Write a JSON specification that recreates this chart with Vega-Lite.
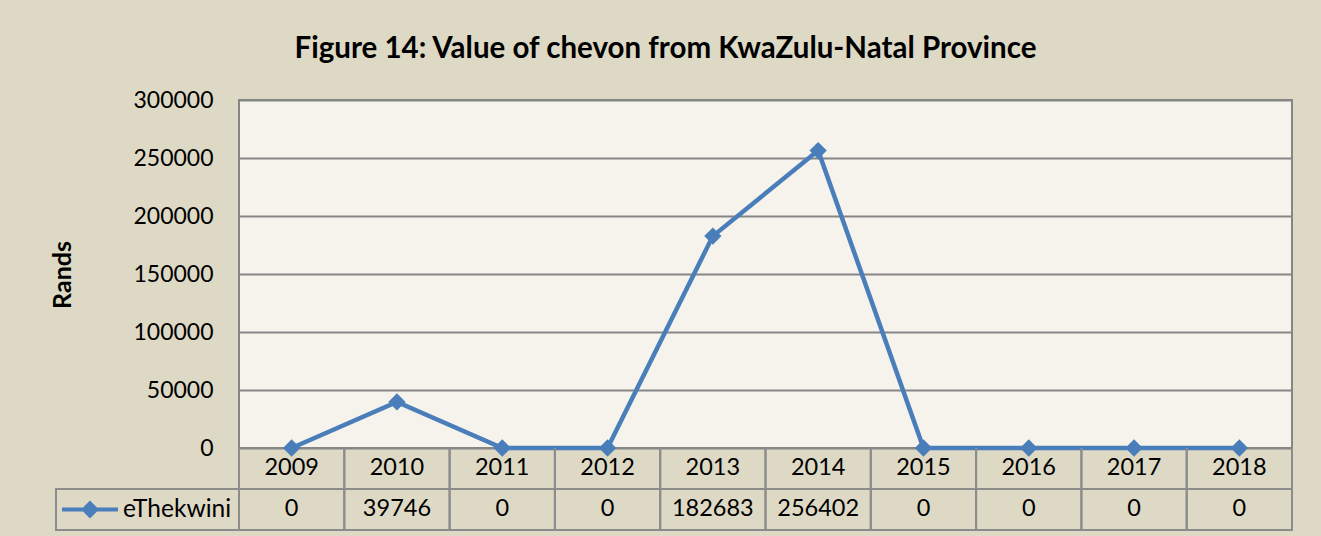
{
  "$schema": "https://vega.github.io/schema/vega-lite/v6.json",
  "width": 1053,
  "height": 348,
  "autosize": {"type": "none"},
  "padding": {"left": 239, "top": 100, "right": 29, "bottom": 88},
  "background": "#ddd9c4",
  "config": {
    "view": {"fill": "#f5f3eb", "stroke": "#868686", "strokeWidth": 2},
    "font": "Lato"
  },
  "title": {
    "text": "Figure 14: Value of chevon from KwaZulu-Natal Province",
    "font": "Lato",
    "fontSize": 29.5,
    "fontWeight": "bold",
    "color": "black",
    "anchor": "middle",
    "frame": "group",
    "baseline": "alphabetic",
    "offset": 2,
    "dx": -100
  },
  "data": {
    "values": [
      {"year": 2009, "value": 0, "series": "eThekwini"},
      {"year": 2010, "value": 39746, "series": "eThekwini"},
      {"year": 2011, "value": 0, "series": "eThekwini"},
      {"year": 2012, "value": 0, "series": "eThekwini"},
      {"year": 2013, "value": 182683, "series": "eThekwini"},
      {"year": 2014, "value": 256402, "series": "eThekwini"},
      {"year": 2015, "value": 0, "series": "eThekwini"},
      {"year": 2016, "value": 0, "series": "eThekwini"},
      {"year": 2017, "value": 0, "series": "eThekwini"},
      {"year": 2018, "value": 0, "series": "eThekwini"}
    ]
  },
  "layer": [
    {
      "mark": {"type": "line", "strokeWidth": 4.5, "clip": false},
      "encoding": {
        "x": {
          "field": "year",
          "type": "quantitative",
          "scale": {"domain": [2008.5, 2018.5], "nice": false, "zero": false},
          "axis": null
        },
        "y": {
          "field": "value",
          "type": "quantitative",
          "scale": {"domain": [0, 300000], "nice": false, "zero": false},
          "axis": {
            "values": [0, 50000, 100000, 150000, 200000, 250000, 300000],
            "format": "d",
            "domain": false,
            "ticks": false,
            "labelPadding": 26,
            "labelFont": "Lato",
            "labelFontSize": 23,
            "labelColor": "black",
            "grid": true,
            "gridColor": "#868686",
            "gridWidth": 2,
            "gridOpacity": 1,
            "title": "Rands",
            "titleFont": "Lato",
            "titleFontSize": 25,
            "titleFontWeight": "bold",
            "titleColor": "black",
            "titleAngle": -90,
            "titleX": -177,
            "titleY": 174.5,
            "titleAlign": "center",
            "titleBaseline": "middle"
          }
        },
        "color": {
          "field": "series",
          "type": "nominal",
          "scale": {"range": ["#4a7ebb"]},
          "legend": {
            "orient": "none",
            "legendX": -179,
            "legendY": 379.5,
            "title": null,
            "padding": 0,
            "symbolType": "M-1,0L1,0M0,-0.22L0.22,0L0,0.22L-0.22,0Z",
            "symbolSize": 3136,
            "symbolStrokeWidth": 4,
            "symbolFillColor": "#4a7ebb",
            "symbolStrokeColor": "#4a7ebb",
            "symbolOpacity": 1,
            "labelFont": "Lato",
            "labelFontSize": 24.5,
            "labelColor": "black",
            "labelOffset": 3
          }
        }
      }
    },
    {
      "mark": {"type": "point", "shape": "diamond", "filled": true, "size": 300, "opacity": 1, "clip": false},
      "encoding": {
        "x": {"field": "year", "type": "quantitative"},
        "y": {"field": "value", "type": "quantitative"},
        "color": {"field": "series", "type": "nominal"}
      }
    },
    {
      "data": {"values": [{"cell": "values"}]},
      "mark": {"type": "rect", "fill": "#ddd9c4", "stroke": "#8c8c8c", "strokeWidth": 2, "clip": false},
      "encoding": {
        "x": {"datum": 2006.762, "type": "quantitative"},
        "x2": {"datum": 2018.5},
        "y": {"datum": -35345, "type": "quantitative"},
        "y2": {"datum": -70690}
      }
    },
    {
      "mark": {"type": "rule", "color": "#8c8c8c", "strokeWidth": 2, "xOffset": -52.65, "clip": false},
      "encoding": {
        "x": {"field": "year", "type": "quantitative"},
        "y": {"datum": 0, "type": "quantitative"},
        "y2": {"datum": -70690}
      }
    },
    {
      "mark": {"type": "rule", "color": "#8c8c8c", "strokeWidth": 2, "xOffset": 52.65, "clip": false},
      "encoding": {
        "x": {"field": "year", "type": "quantitative"},
        "y": {"datum": 0, "type": "quantitative"},
        "y2": {"datum": -70690}
      }
    },
    {
      "mark": {"type": "text", "fontSize": 23.5, "color": "black", "baseline": "middle", "align": "center", "clip": false},
      "encoding": {
        "x": {"field": "year", "type": "quantitative"},
        "y": {"datum": -17672, "type": "quantitative"},
        "text": {"field": "year", "type": "quantitative", "format": "d"}
      }
    },
    {
      "mark": {"type": "text", "fontSize": 23.5, "color": "black", "baseline": "middle", "align": "center", "clip": false},
      "encoding": {
        "x": {"field": "year", "type": "quantitative"},
        "y": {"datum": -53017, "type": "quantitative"},
        "text": {"field": "value", "type": "quantitative", "format": "d"}
      }
    }
  ]
}
